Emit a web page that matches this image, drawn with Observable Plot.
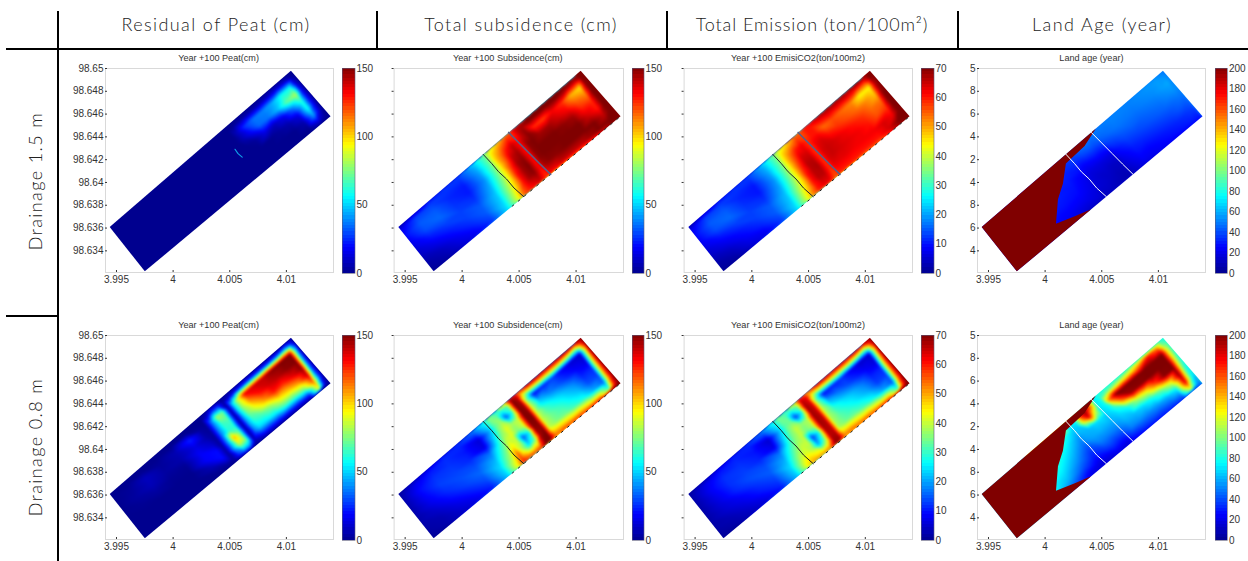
<!DOCTYPE html>
<html><head><meta charset="utf-8">
<script src="https://cdn.jsdelivr.net/npm/d3@7"></script>
<script src="https://cdn.jsdelivr.net/npm/@observablehq/plot@0.6"></script>
<style>
html,body{margin:0;padding:0;background:#fff}
#page{position:relative;width:1248px;height:561px;overflow:hidden;background:#fff}
#page>svg,#page>div{position:absolute}
.rule{background:#000}
.head{font-family:Lato,"Open Sans",sans-serif;font-weight:300;font-size:18px;color:#222;letter-spacing:1.4px;white-space:nowrap;transform:translateX(-50%);top:13px;line-height:22px}
.side{font-family:Lato,"Open Sans",sans-serif;font-weight:300;font-size:18px;color:#222;letter-spacing:1.4px;white-space:nowrap;transform:translate(-50%,-50%) rotate(-90deg);line-height:22px}
.sub{font-family:"Liberation Sans",Arial,sans-serif;font-size:9.1px;color:#333;white-space:nowrap;transform:translateX(-50%);line-height:10px}
</style></head><body><div id="page"></div>
<script>
const headers=["Residual of Peat (cm)","Total subsidence (cm)","Total Emission (ton/100m²)","Land Age (year)"];
const headerX=[216,521,812,1102];
const headerSpacing=[1.4,1.4,.9,1.4];
const headerRules=[58,376.5,667,958];
const rowLabels=["Drainage 1.5 m","Drainage 0.8 m"];
const rowLabelY=[181,447];
const panelTitles=["Year +100 Peat(cm)","Year +100 Subsidence(cm)","Year +100 EmisiCO2(ton/100m2)","Land age (year)"];
const xTicks=[3.995,4,4.005,4.01];
const yTicks=[98.634,98.636,98.638,98.64,98.642,98.644,98.646,98.648,98.65];
const xDomain=[3.99403,4.01416];
const yDomain=[98.6321,98.65];
// strip corners in map units: [x,y]
const cornerS=[3.9975,98.6322], cornerE=[4.0139,98.6458], cornerW=[3.9944,98.6361], cornerN=[4.0104,98.6498];
// sample stations along the strip (SW to NE) and across it (SE to NW)
const along=[0,.08,.16,.24,.32,.40,.46,.49,.52,.55,.58,.61,.635,.66,.70,.75,.80,.85,.90,.95,.98,1];
const across=[0,.06,.2,.35,.5,.65,.8,.93,1];
const _=null;
const peat15=[
[0,0,0,0,0,0,0,0,0],[0,0,0,0,0,0,0,0,0],[0,0,0,0,0,0,0,0,0],[0,0,0,0,0,0,0,0,0],[0,0,0,0,0,0,0,0,0],[0,0,0,0,0,0,0,0,0],[0,0,0,0,0,0,0,0,0],[0,0,0,0,0,0,0,0,0],[0,0,0,0,0,0,0,0,0],[0,0,0,0,0,0,0,0,0],[0,0,0,0,0,0,0,0,0],[0,0,0,0,0,0,0,0,0],[0,0,0,0,0,0,0,0,0],
[0,0,0,0,0,5,8,0,0],[0,0,0,0,2,16,26,3,0],[0,0,0,0,14,34,36,4,0],[0,0,0,2,8,36,38,5,0],[0,0,0,5,16,46,44,8,0],[0,0,5,14,35,70,58,12,0],[0,12,42,58,62,82,58,10,0],[0,3,12,18,18,18,12,2,0],[0,0,0,0,0,0,0,0,0]];
const subs15=[
[2,2,4,8,12,16,20,15,5],[3,5,8,15,22,30,32,28,12],[8,12,16,22,28,34,32,28,22],[15,18,24,28,28,26,24,26,26],[25,28,32,32,26,22,22,26,28],[52,52,50,48,44,40,42,45,50],[90,90,85,80,75,72,70,70,72],[118,115,105,100,98,98,100,95,85],[125,128,130,130,125,118,115,105,95],[130,135,145,145,145,140,130,115,105],[135,140,148,150,148,145,140,125,115],[125,125,130,130,130,130,130,125,125],[128,135,145,148,148,148,140,140,140],[125,135,148,150,150,150,148,145,140],[125,140,148,150,150,145,125,150,150],[125,140,150,150,150,145,122,150,150],[125,140,150,150,148,138,132,150,150],[130,145,150,150,145,132,125,150,150],[135,150,150,138,128,118,105,145,150],[148,150,140,128,125,112,98,140,150],[150,150,150,150,150,150,148,150,150],[150,150,150,150,150,150,150,150,150]];
const emis15=[
[1,1,2,4,6,8,9,7,2],[1,2,4,7,10,14,15,13,6],[4,6,8,10,13,16,15,13,10],[7,8,11,13,13,12,11,12,12],[12,13,15,15,12,10,10,12,13],[24,24,23,22,20,19,20,21,23],[42,42,40,37,35,34,33,33,34],[52,52,48,46,46,46,46,44,40],[58,60,60,60,58,56,54,48,44],[60,63,66,66,66,64,60,52,48],[60,63,66,67,66,64,62,57,54],[56,56,58,58,58,58,58,56,56],[58,60,63,64,64,63,60,60,60],[58,60,63,65,65,64,60,60,62],[58,60,63,64,64,60,54,62,66],[56,60,62,63,62,58,56,64,68],[56,60,62,62,60,56,54,64,68],[56,60,62,60,58,54,52,64,68],[60,64,64,56,54,52,44,62,70],[68,70,62,58,54,48,44,60,70],[70,70,70,70,70,68,66,70,70],[70,70,70,70,70,70,70,70,70]];
const age15=[
[_,_,_,_,_,_,_,_,_],[_,_,_,_,_,_,_,_,_],[_,_,_,_,_,_,_,_,_],[26,26,26,28,_,_,_,_,_],[20,20,24,28,30,30,32,_,_],[12,16,22,26,28,30,32,34,_],[12,16,18,20,22,28,34,38,40],[10,12,15,16,18,24,34,42,45],[10,12,14,14,18,26,38,46,48],[10,10,12,14,18,28,40,48,48],[8,9,10,12,18,28,40,46,46],[8,8,10,12,18,30,42,48,48],[10,12,16,20,26,36,44,48,50],[14,16,20,24,30,38,46,48,50],[18,22,26,30,36,42,48,50,50],[20,22,26,32,38,44,48,50,50],[22,24,28,34,40,44,48,50,50],[22,26,30,36,42,46,50,52,52],[24,28,32,38,44,48,52,54,54],[26,30,34,42,46,52,56,56,54],[26,30,36,42,48,54,58,54,50],[28,32,38,44,48,52,52,50,48]];
const peat08=[
[0,0,0,0,0,0,0,0,0],[0,0,0,0,1,3,2,0,0],[0,0,0,0,3,7,8,0,0],[0,0,0,0,1,3,2,0,0],[0,0,0,0,1,5,6,0,0],[0,0,6,18,18,14,24,0,0],[0,2,20,20,10,5,3,0,0],[0,2,3,3,2,2,1,0,0],[3,22,42,45,40,38,38,8,0],[4,38,85,105,62,65,80,25,2],[4,38,78,72,62,68,72,25,2],[2,4,3,3,3,3,3,3,2],[1,10,35,42,44,50,52,8,1],[1,16,50,62,72,80,85,15,1],[1,16,52,68,90,110,132,22,1],[1,16,55,78,110,130,138,25,1],[1,16,65,95,128,138,140,25,1],[1,16,65,100,125,142,148,25,1],[1,18,72,110,135,148,150,28,1],[2,90,115,138,148,150,150,40,2],[2,15,35,35,40,45,55,25,2],[0,1,2,2,2,2,2,2,0]];
const subs08=[
[2,2,4,5,5,5,5,4,2],[3,5,6,10,15,18,20,16,8],[8,10,14,20,25,28,26,22,15],[12,16,22,28,30,28,26,25,22],[20,24,30,34,30,24,22,24,25],[48,50,52,46,36,14,12,30,38],[95,95,85,75,65,55,45,55,58],[130,125,115,95,85,75,70,75,75],[125,110,80,85,90,90,80,70,60],[125,105,50,32,75,80,32,60,90],[130,110,70,55,85,85,60,70,100],[150,150,145,148,150,150,150,150,140],[140,150,150,148,150,148,145,140,130],[118,110,85,85,85,85,75,100,130],[125,108,75,72,65,48,20,105,145],[125,105,72,64,54,38,24,110,145],[125,105,64,54,46,32,28,110,145],[128,100,58,46,38,24,18,110,145],[130,100,44,30,24,18,12,105,148],[145,65,34,28,24,14,10,90,145],[150,130,115,110,105,100,90,120,150],[150,150,150,150,150,150,150,150,150]];
const emis08=[
[1,1,2,2,2,2,2,2,1],[1,2,3,5,6,7,8,7,3],[3,4,6,8,11,12,12,10,7],[5,7,10,12,14,13,12,11,10],[9,11,13,15,14,11,10,11,12],[22,23,24,21,17,7,5,14,18],[44,44,40,35,30,26,22,26,28],[50,48,42,40,36,34,32,34,34],[52,46,38,40,40,40,34,32,30],[52,45,20,13,34,36,13,28,38],[54,48,32,26,38,38,26,34,44],[68,68,66,67,68,68,68,66,60],[62,68,66,66,66,65,64,62,55],[54,50,38,38,38,38,34,46,58],[56,50,34,32,29,21,10,48,66],[56,48,33,28,24,17,11,50,66],[56,48,30,24,21,14,12,50,66],[58,46,26,20,17,11,8,50,66],[60,46,20,13,11,8,5,48,68],[66,30,15,13,11,6,5,42,66],[70,60,54,52,50,47,42,56,70],[70,70,70,70,70,70,70,70,70]];
const age08=[
[_,_,_,_,_,_,_,_,_],[_,_,_,_,_,_,_,_,_],[_,_,_,_,_,_,_,_,_],[60,60,75,80,_,_,_,_,_],[40,45,60,70,80,90,120,_,_],[20,24,40,52,62,72,85,130,_],[15,18,28,36,46,55,65,75,_],[15,18,30,40,55,60,65,78,_],[15,20,35,50,58,62,130,170,_],[18,24,38,50,60,68,180,200,_],[15,22,35,50,60,70,120,160,_],[15,20,36,50,60,65,70,70,70],[22,28,42,54,62,70,76,80,80],[24,30,50,60,68,85,150,90,80],[26,34,52,62,78,150,200,100,80],[28,36,52,68,110,195,200,110,80],[30,36,55,78,125,198,200,120,85],[30,40,60,95,160,200,200,140,85],[32,45,72,120,198,200,200,170,90],[36,120,180,195,200,200,200,150,90],[40,60,85,95,110,120,120,95,85],[45,50,60,70,75,80,85,85,80]];
// boundary of the old land (age at the top of the scale): [along, across]
const oldLandAge=200;
const oldLand=[[0,0],[.40,0],[.33,.09],[.25,.2],[.32,.5],[.377,.65],[.44,.88],[.547,.9],[.63,1],[0,1]];
const ditch1=[[.465,1],[.468,.78],[.468,.6],[.474,.42],[.474,.22],[.482,0]];
const ditch2=[[.605,1],[.61,.75],[.615,.5],[.62,.25],[.626,0]];
const seep=[[.61,.61],[.608,.52],[.612,.43]];
const scaleMax=[150,150,70,200];
const jetStops=[0,.125,.375,.625,.875,1];
const jetColors=["#00008f","#0000ff","#00ffff","#ffff00","#ff0000","#800000"];
const barTicks=[[0,50,100,150],[0,50,100,150],[0,10,20,30,40,50,60,70],[0,20,40,60,80,100,120,140,160,180,200]];
const columns=[
 {left:104.5,right:332.6,m:36,cb:341.5,cbw:12.5,cr:24,labels:"full"},
 {left:393.3,right:622.3,m:3.6,cb:631.7,cbw:11.5,cr:20,labels:"none"},
 {left:684,right:912,m:3.6,cb:921,cbw:12.5,cr:20,labels:"none"},
 {left:977.4,right:1205.5,m:10,cb:1214.5,cbw:12,cr:22,labels:"digit"}];
const rowFrames=[{top:68,bottom:272},{top:335,bottom:539}];
const titleY=[53,320];
const labelFormats={full:d=>String(d),none:()=>"",digit:d=>String(d).slice(-1)};
const panels=[
 [{g:peat15,col:0,row:0,seep:true},{g:subs15,col:1,row:0,d1:"#1c2233",d2:"#5b5f86",specks:true},{g:emis15,col:2,row:0,d1:"#1c2233",d2:"#5b5f86",specks:true},{g:age15,col:3,row:0,d1:"#fff",d2:"#fff",old:true}],
 [{g:peat08,col:0,row:1},{g:subs08,col:1,row:1,d1:"#1c1c1c",specks:true},{g:emis08,col:2,row:1,d1:"#1c1c1c",specks:true},{g:age08,col:3,row:1,d1:"#fff",d2:"#fff",old:true}]];

const page=document.getElementById("page");
const mix=(a,b,t)=>a+(b-a)*t;
function toMap(u,v){ // bilinear position on the strip
  return [0,1].map(k=>mix(mix(cornerS[k],cornerE[k],u),mix(cornerW[k],cornerN[k],u),v));
}
const asPoints=l=>l.map(([u,v])=>{const [x,y]=toMap(u,v);return {x,y};});
function colorScale(max){return {type:"linear",domain:jetStops.map(t=>t*max),range:jetColors,interpolate:"rgb",clamp:true};}
function place(el,l,t){el.style.position="absolute";el.style.left=l+"px";el.style.top=t+"px";page.appendChild(el);}
function addDiv(cls,txt,css){const d=document.createElement("div");d.className=cls;if(txt)d.textContent=txt;Object.assign(d.style,css);page.appendChild(d);return d;}
let clipId=0;
function drawPanel(p){
  const c=columns[p.col],r=rowFrames[p.row],max=scaleMax[p.col];
  const mt=8,mb=16,mr=4;
  const pts=[];
  along.forEach((u,i)=>across.forEach((v,j)=>{const val=p.g[i][j];if(val!==null){const [x,y]=toMap(u,v);pts.push({x,y,value:val});}}));
  const marks=[
    Plot.raster(pts,{x:"x",y:"y",fill:"value",interpolate:"barycentric",pixelSize:1}),
  ];
  if(p.old) marks.push(Plot.line(asPoints(oldLand).concat(asPoints(oldLand.slice(0,1))).map(d=>({...d,age:oldLandAge})),{x:"x",y:"y",fill:"age",stroke:"none"}));
  if(p.specks) marks.push(Plot.line(asPoints([[.42,0],[1,0]]),{x:"x",y:"y",stroke:"#222",strokeWidth:1,strokeDasharray:"2 6"}));
  if(p.d1) marks.push(Plot.line(asPoints(ditch1),{x:"x",y:"y",stroke:p.d1,strokeWidth:1}));
  if(p.d2) marks.push(Plot.line(asPoints(ditch2),{x:"x",y:"y",stroke:p.d2,strokeWidth:p.old?1:1.6}));
  if(p.seep) marks.push(Plot.line(asPoints(seep),{x:"x",y:"y",stroke:"#0f9fe8",strokeWidth:1.2}));
  marks.push(Plot.frame({stroke:"#d9d9d9"}));
  marks.push(Plot.axisX({ticks:xTicks,tickFormat:d=>String(d),tickSize:-2,tickPadding:5,label:null,color:"#333"}));
  marks.push(c.labels==="none"
    ? Plot.axisY({ticks:yTicks,tickFormat:labelFormats.none,tickSize:2,tickPadding:1,label:null,color:"#333"})
    : Plot.axisY({ticks:yTicks,tickFormat:labelFormats[c.labels],tickSize:-2,tickPadding:4,label:null,color:"#333"}));
  const w=c.right-c.left,h=r.bottom-r.top;
  const fig=Plot.plot({
    width:Math.round(w+c.m+mr),height:Math.round(h+mt+mb),
    marginLeft:c.m,marginRight:mr,marginTop:mt,marginBottom:mb,
    x:{domain:xDomain},y:{domain:yDomain},color:colorScale(max),
    style:{background:"transparent",overflow:"hidden",fontSize:"10px",fontFamily:"Liberation Sans, Arial, sans-serif"},
    marks});
  // keep the raster inside the strip outline
  const X=fig.scale("x"),Y=fig.scale("y");
  const img=fig.querySelector("image");
  if(img){
    const id="strip"+(clipId++);
    const cp=document.createElementNS("http://www.w3.org/2000/svg","clipPath");cp.setAttribute("id",id);
    const poly=document.createElementNS("http://www.w3.org/2000/svg","polygon");
    poly.setAttribute("points",[cornerS,cornerE,cornerN,cornerW].map(q=>X.apply(q[0])+","+Y.apply(q[1])).join(" "));
    cp.appendChild(poly);fig.appendChild(cp);
    img.parentNode.setAttribute("clip-path","url(#"+id+")");
    img.style.filter="blur(1.3px)";
  }
  place(fig,c.left-c.m,r.top-mt);
  // colour bar
  const step=max/64,levels=d3.range(64).map(i=>i*step);
  const mv=6;
  const bar=Plot.plot({
    width:Math.round(c.cbw+c.cr),height:h+mv*2+1,
    marginLeft:0,marginRight:Math.round(c.cbw+c.cr)-c.cbw,marginTop:mv,marginBottom:mv,
    x:{domain:[0,1],axis:null},y:{domain:[0,max]},color:colorScale(max),
    style:{background:"transparent",overflow:"hidden",fontSize:"10px",fontFamily:"Liberation Sans, Arial, sans-serif"},
    marks:[
      Plot.rect(levels,{x1:()=>0,x2:()=>1,y1:d=>d,y2:d=>Math.min(max,d+step*1.05),fill:d=>d+step/2,shapeRendering:"crispEdges"}),
      Plot.frame({stroke:"#5a5a7a",strokeWidth:.6}),
      Plot.axisY({anchor:"right",ticks:barTicks[p.col],tickFormat:d=>String(d),tickSize:0,tickPadding:1.5,label:null,color:"#333"})
    ]});
  place(bar,c.cb,r.top-mv);
  addDiv("sub",panelTitles[p.col],{left:((c.left+c.right)/2)+"px",top:titleY[p.row]+"px"});
}
panels.flat().forEach(drawPanel);
// layout rules and headers
addDiv("rule","",{left:"6px",top:"48px",width:"1242px",height:"2px"});
addDiv("rule","",{left:"57px",top:"11px",width:"2px",height:"550px"});
addDiv("rule","",{left:"6px",top:"315px",width:"52px",height:"1.5px"});
headerRules.slice(1).forEach(x=>addDiv("rule","",{left:(x-1)+"px",top:"11px",width:"2px",height:"37px"}));
headers.forEach((t,i)=>addDiv("head",t,{left:headerX[i]+"px",letterSpacing:headerSpacing[i]+"px"}));
rowLabels.forEach((t,i)=>addDiv("side",t,{left:"35px",top:rowLabelY[i]+"px"}));
</script></body></html>
